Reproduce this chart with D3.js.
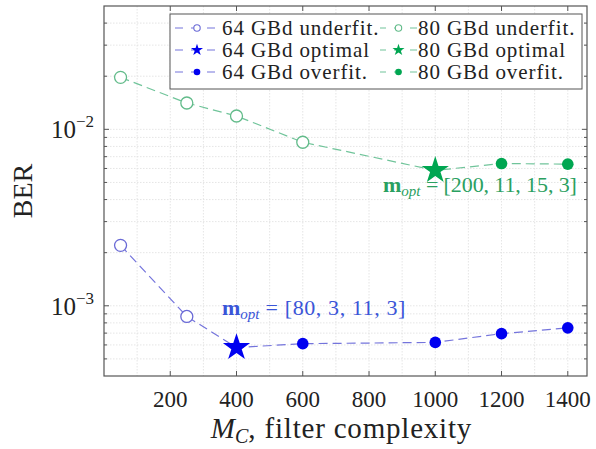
<!DOCTYPE html>
<html><head><meta charset="utf-8">
<script src="https://cdn.jsdelivr.net/npm/d3@7"></script>
<style>body{margin:0;background:#fff}svg{display:block}text{font-family:"Liberation Serif","Times New Roman",serif}</style>
</head><body><svg id="c" width="596" height="449"></svg>
<script>
// ---- data ----
const xTicks = [200, 400, 600, 800, 1000, 1200, 1400];
const yTicks = [1e-3, 1e-2];
const yTickLabels = ["−3", "−2"];
const x64Under = [50, 250], y64Under = [2.2e-3, 8.7e-4];
const x64Opt = [400], y64Opt = [5.8e-4];
const x64Over = [600, 1000, 1200, 1400], y64Over = [6.1e-4, 6.2e-4, 6.95e-4, 7.5e-4];
const x80Under = [50, 250, 400, 600], y80Under = [1.97e-2, 1.41e-2, 1.19e-2, 8.45e-3];
const x80Opt = [1000], y80Opt = [5.85e-3];
const x80Over = [1200, 1400], y80Over = [6.4e-3, 6.35e-3];
const legendLabels = ["64 GBd underfit.", "64 GBd optimal", "64 GBd overfit.", "80 GBd underfit.", "80 GBd optimal", "80 GBd overfit."];
const annot64 = ["[80, 3, 11, 3]"], annot80 = ["[200, 11, 15, 3]"];

const W = 596, H = 449, m = {l: 104, r: 9, t: 6, b: 73};
const svg = d3.select("#c");
const x = d3.scaleLinear().domain([0, 1458]).range([m.l, W - m.r]);
const y = d3.scaleLog().domain([4e-4, 5e-2]).range([H - m.b, m.t]);

const C = {
  b: {line: "#7474dc", open: "#6a6ad6", fill: "#0000f0"},
  g: {line: "#70c49a", open: "#62bb8a", fill: "#00a651"}
};

// grid
const minorX = d3.range(100, 1458, 100);
const minorY = [];
[1e-4, 1e-3, 1e-2].forEach(d => { for (let k = 2; k <= 9; k++) { const v = d * k; if (v > 4e-4 && v < 5e-2) minorY.push(v); } });
const g = svg.append("g");
g.selectAll(".gx").data(minorX).join("line").attr("x1", d => x(d)).attr("x2", d => x(d))
  .attr("y1", m.t).attr("y2", H - m.b).attr("stroke", "#dedede").attr("stroke-width", 0.8).attr("stroke-dasharray", "1.5,1.5");
g.selectAll(".gy").data(minorY.concat(yTicks)).join("line").attr("y1", d => y(d)).attr("y2", d => y(d))
  .attr("x1", m.l).attr("x2", W - m.r).attr("stroke", "#dedede").attr("stroke-width", 0.8).attr("stroke-dasharray", "1.5,1.5");

// box and ticks
svg.append("rect").attr("x", m.l).attr("y", m.t).attr("width", W - m.r - m.l).attr("height", H - m.b - m.t)
  .attr("fill", "none").attr("stroke", "#555").attr("stroke-width", 1.2);
const tk = svg.append("g").attr("stroke", "#555").attr("stroke-width", 1);
xTicks.forEach(v => {
  tk.append("line").attr("x1", x(v)).attr("x2", x(v)).attr("y1", H - m.b).attr("y2", H - m.b - 5);
  tk.append("line").attr("x1", x(v)).attr("x2", x(v)).attr("y1", m.t).attr("y2", m.t + 5);
});
yTicks.forEach(v => {
  tk.append("line").attr("y1", y(v)).attr("y2", y(v)).attr("x1", m.l).attr("x2", m.l + 5);
  tk.append("line").attr("y1", y(v)).attr("y2", y(v)).attr("x1", W - m.r).attr("x2", W - m.r - 5);
});
minorY.forEach(v => {
  tk.append("line").attr("y1", y(v)).attr("y2", y(v)).attr("x1", m.l).attr("x2", m.l + 3);
  tk.append("line").attr("y1", y(v)).attr("y2", y(v)).attr("x1", W - m.r).attr("x2", W - m.r - 3);
});

// tick labels
svg.selectAll(".xl").data(xTicks).join("text").attr("x", d => x(d)).attr("y", H - m.b + 31)
  .attr("text-anchor", "middle").attr("font-size", 23).attr("fill", "#222").text(d => d);
yTicks.forEach((v, i) => {
  const t = svg.append("text").attr("x", m.l - 10).attr("y", y(v) + 9).attr("text-anchor", "end").attr("font-size", 25).attr("fill", "#222");
  t.append("tspan").text("10");
  t.append("tspan").attr("dy", -11).attr("font-size", 17).text(yTickLabels[i]);
});

// axis labels
const xl = svg.append("text").attr("x", (m.l + W - m.r) / 2 - 4).attr("y", 438).attr("text-anchor", "middle").attr("font-size", 29).attr("fill", "#222");
xl.append("tspan").attr("font-style", "italic").text("M");
xl.append("tspan").attr("font-style", "italic").attr("font-size", 20).attr("dy", 5).text("C");
xl.append("tspan").attr("dy", -5).attr("letter-spacing", 0.8).text(", filter complexity");
svg.append("text").attr("transform", `translate(32,${(m.t + H - m.b) / 2}) rotate(-90)`).attr("text-anchor", "middle")
  .attr("font-size", 28).attr("fill", "#222").text("BER");

// series
const line = d3.line().x(d => x(d[0])).y(d => y(d[1]));
function series(xu, yu, xo, yo, xv, yv, c) {
  const pts = xu.map((v, i) => [v, yu[i]]).concat(xo.map((v, i) => [v, yo[i]])).concat(xv.map((v, i) => [v, yv[i]]));
  svg.append("path").datum(pts).attr("d", line).attr("fill", "none").attr("stroke", c.line).attr("stroke-width", 1.2).attr("stroke-dasharray", "9,5");
  svg.selectAll(null).data(xu.map((v, i) => [v, yu[i]])).join("circle").attr("cx", d => x(d[0])).attr("cy", d => y(d[1]))
    .attr("r", 6).attr("fill", "#fff").attr("stroke", c.open).attr("stroke-width", 1.3);
  svg.selectAll(null).data(xv.map((v, i) => [v, yv[i]])).join("circle").attr("cx", d => x(d[0])).attr("cy", d => y(d[1]))
    .attr("r", 5.8).attr("fill", c.fill);
  svg.selectAll(null).data(xo.map((v, i) => [v, yo[i]])).join("path")
    .attr("d", d3.symbol(d3.symbolStar, 230)).attr("transform", d => `translate(${x(d[0])},${y(d[1])})`).attr("fill", c.fill);
}
series(x64Under, y64Under, x64Opt, y64Opt, x64Over, y64Over, C.b);
series(x80Under, y80Under, x80Opt, y80Opt, x80Over, y80Over, C.g);

// annotations
function annot(px, py, txt, col, ls) {
  const t = svg.append("text").attr("x", px).attr("y", py).attr("font-size", 22).attr("fill", col);
  t.append("tspan").attr("font-weight", "bold").text("m");
  t.append("tspan").attr("font-style", "italic").attr("font-size", 15).attr("dy", 4).text("opt");
  t.append("tspan").attr("dy", -4).attr("letter-spacing", ls).text(" = " + txt);
}
annot(222, 315, annot64[0], "#3a55d8", 0.6);
annot(383, 192, annot80[0], "#2aa060", -0.1);

// legend
const lg = svg.append("g");
lg.append("rect").attr("x", 170).attr("y", 14).attr("width", 412).attr("height", 75).attr("fill", "#fff").attr("stroke", "#555").attr("stroke-width", 1);
const rowsY = [28, 50, 72];
const cols = [{x0: 173, len: 48, tx: 222, c: C.b}, {x0: 380, len: 37, tx: 418, c: C.g}];
const kinds = ["open", "star", "fill"];
legendLabels.forEach((lab, i) => {
  const col = cols[Math.floor(i / 3)], ry = rowsY[i % 3], kind = kinds[i % 3];
  lg.append("line").attr("x1", col.x0).attr("x2", col.x0 + col.len).attr("y1", ry).attr("y2", ry)
    .attr("stroke", col.c.line).attr("stroke-width", 1.2).attr("stroke-dasharray", "8,8").attr("stroke-dashoffset", col.len === 48 ? -2 : 2);
  const cx = col.x0 + col.len / 2;
  if (kind === "open") lg.append("circle").attr("cx", cx).attr("cy", ry).attr("r", 3.2).attr("fill", "#fff").attr("stroke", col.c.open).attr("stroke-width", 1.1);
  else if (kind === "fill") lg.append("circle").attr("cx", cx).attr("cy", ry).attr("r", 3.3).attr("fill", col.c.fill);
  else lg.append("path").attr("d", d3.symbol(d3.symbolStar, 45)).attr("transform", `translate(${cx},${ry})`).attr("fill", col.c.fill);
  lg.append("text").attr("x", col.tx).attr("y", ry + 7).attr("font-size", 21).attr("letter-spacing", 0.9).attr("fill", "#222").text(lab);
});
</script></body></html>
